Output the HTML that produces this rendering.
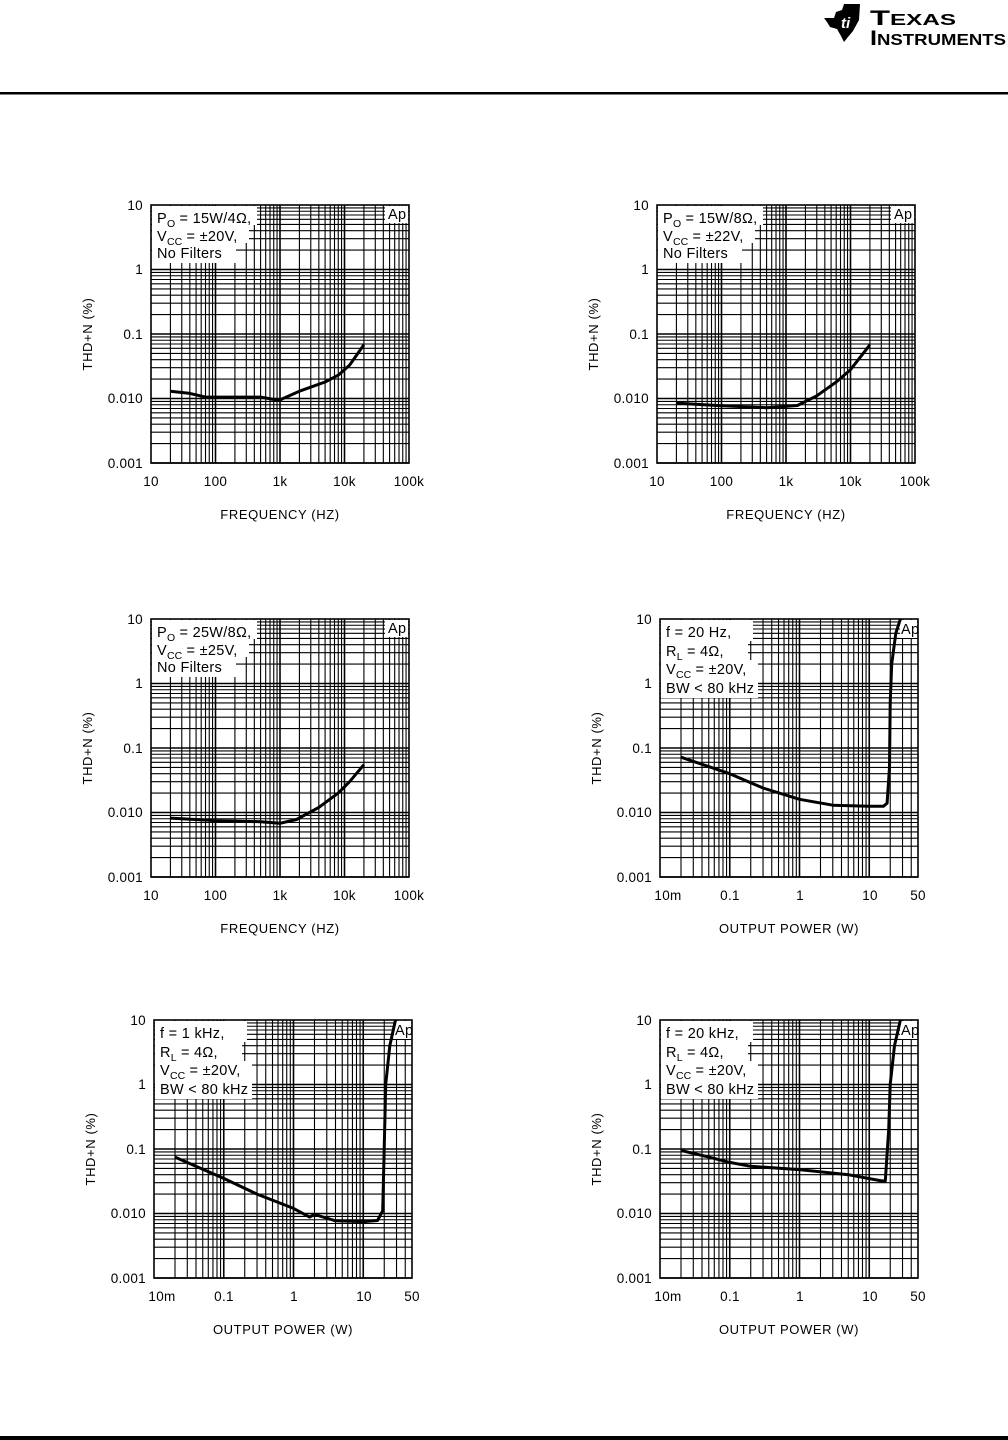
<!DOCTYPE html>
<html><head><meta charset="utf-8"><style>
html,body{margin:0;padding:0;background:#fff}
svg{display:block}
text{font-family:"Liberation Sans",sans-serif;fill:#000}
.t{font-size:13.5px;letter-spacing:0.3px}
.b{font-size:14.5px;letter-spacing:0.3px}
.s{font-size:10.5px;letter-spacing:0}
.ax{font-size:13px;letter-spacing:0.6px}
</style></head><body>
<svg id="s" width="1008" height="1440" viewBox="0 0 1008 1440" xmlns="http://www.w3.org/2000/svg">
<rect x="0" y="92" width="1008" height="2.5" fill="#000"/>
<rect x="0" y="1436" width="1008" height="4" fill="#000"/>
<g transform="translate(824,4)">
<path d="M0,14 L10,14 L12,8 L18,6 L20,0 L36,0 L35,16 L29,27 L24,33 L20,38 L17,32 L13,25 L6,23 L3,18 Z" fill="#000"/>
<text x="17" y="24" font-size="15" font-style="italic" font-weight="bold" style="fill:#fff" font-family="Liberation Serif,serif">ti</text>
</g>
<text x="870" y="25" font-family="Liberation Serif,serif" font-weight="bold" font-size="21" textLength="86" lengthAdjust="spacingAndGlyphs">T<tspan font-size="15.5">EXAS</tspan></text>
<text x="870" y="45" font-family="Liberation Serif,serif" font-weight="bold" font-size="21" textLength="136" lengthAdjust="spacingAndGlyphs">I<tspan font-size="15.5">NSTRUMENTS</tspan></text>

<g transform="translate(151,205)">
<g id="c1"></g>
<text class="b" x="6" y="18">P<tspan class="s" dy="4">O</tspan><tspan dy="-4"> = 15W/4Ω,</tspan></text>
<text class="b" x="6" y="36">V<tspan class="s" dy="4">CC</tspan><tspan dy="-4"> = ±20V,</tspan></text>
<text class="b" x="6" y="53">No Filters</text>
<text class="b" x="237" y="14">Ap</text>
<text class="t" x="-8" y="5" text-anchor="end">10</text><text class="t" x="-8" y="69" text-anchor="end">1</text><text class="t" x="-8" y="134" text-anchor="end">0.1</text><text class="t" x="-8" y="198" text-anchor="end">0.010</text><text class="t" x="-8" y="263" text-anchor="end">0.001</text>
<text class="t" x="0" y="281" text-anchor="middle">10</text><text class="t" x="64.5" y="281" text-anchor="middle">100</text><text class="t" x="129" y="281" text-anchor="middle">1k</text><text class="t" x="193.5" y="281" text-anchor="middle">10k</text><text class="t" x="258" y="281" text-anchor="middle">100k</text>
<text class="ax" x="129" y="314" text-anchor="middle">FREQUENCY (HZ)</text>
<text class="ax" transform="translate(-59,129) rotate(-90)" text-anchor="middle">THD+N (%)</text>
</g>

<g transform="translate(657,205)">
<g id="c2"></g>
<text class="b" x="6" y="18">P<tspan class="s" dy="4">O</tspan><tspan dy="-4"> = 15W/8Ω,</tspan></text>
<text class="b" x="6" y="36">V<tspan class="s" dy="4">CC</tspan><tspan dy="-4"> = ±22V,</tspan></text>
<text class="b" x="6" y="53">No Filters</text>
<text class="b" x="237" y="14">Ap</text>
<text class="t" x="-8" y="5" text-anchor="end">10</text><text class="t" x="-8" y="69" text-anchor="end">1</text><text class="t" x="-8" y="134" text-anchor="end">0.1</text><text class="t" x="-8" y="198" text-anchor="end">0.010</text><text class="t" x="-8" y="263" text-anchor="end">0.001</text>
<text class="t" x="0" y="281" text-anchor="middle">10</text><text class="t" x="64.5" y="281" text-anchor="middle">100</text><text class="t" x="129" y="281" text-anchor="middle">1k</text><text class="t" x="193.5" y="281" text-anchor="middle">10k</text><text class="t" x="258" y="281" text-anchor="middle">100k</text>
<text class="ax" x="129" y="314" text-anchor="middle">FREQUENCY (HZ)</text>
<text class="ax" transform="translate(-59,129) rotate(-90)" text-anchor="middle">THD+N (%)</text>
</g>

<g transform="translate(151,619)">
<g id="c3"></g>
<text class="b" x="6" y="18">P<tspan class="s" dy="4">O</tspan><tspan dy="-4"> = 25W/8Ω,</tspan></text>
<text class="b" x="6" y="36">V<tspan class="s" dy="4">CC</tspan><tspan dy="-4"> = ±25V,</tspan></text>
<text class="b" x="6" y="53">No Filters</text>
<text class="b" x="237" y="14">Ap</text>
<text class="t" x="-8" y="5" text-anchor="end">10</text><text class="t" x="-8" y="69" text-anchor="end">1</text><text class="t" x="-8" y="134" text-anchor="end">0.1</text><text class="t" x="-8" y="198" text-anchor="end">0.010</text><text class="t" x="-8" y="263" text-anchor="end">0.001</text>
<text class="t" x="0" y="281" text-anchor="middle">10</text><text class="t" x="64.5" y="281" text-anchor="middle">100</text><text class="t" x="129" y="281" text-anchor="middle">1k</text><text class="t" x="193.5" y="281" text-anchor="middle">10k</text><text class="t" x="258" y="281" text-anchor="middle">100k</text>
<text class="ax" x="129" y="314" text-anchor="middle">FREQUENCY (HZ)</text>
<text class="ax" transform="translate(-59,129) rotate(-90)" text-anchor="middle">THD+N (%)</text>
</g>

<g transform="translate(660,619)">
<g id="c4"></g>
<text class="b" x="6" y="18">f = 20 Hz,</text>
<text class="b" x="6" y="37">R<tspan class="s" dy="4">L</tspan><tspan dy="-4"> = 4Ω,</tspan></text>
<text class="b" x="6" y="55">V<tspan class="s" dy="4">CC</tspan><tspan dy="-4"> = ±20V,</tspan></text>
<text class="b" x="6" y="74">BW &lt; 80 kHz</text>
<text class="b" x="241" y="15">Ap</text>
<text class="t" x="-8" y="5" text-anchor="end">10</text><text class="t" x="-8" y="69" text-anchor="end">1</text><text class="t" x="-8" y="134" text-anchor="end">0.1</text><text class="t" x="-8" y="198" text-anchor="end">0.010</text><text class="t" x="-8" y="263" text-anchor="end">0.001</text>
<text class="t" x="8" y="281" text-anchor="middle">10m</text><text class="t" x="70" y="281" text-anchor="middle">0.1</text><text class="t" x="140" y="281" text-anchor="middle">1</text><text class="t" x="210" y="281" text-anchor="middle">10</text><text class="t" x="258" y="281" text-anchor="middle">50</text>
<text class="ax" x="129" y="314" text-anchor="middle">OUTPUT POWER (W)</text>
<text class="ax" transform="translate(-59,129) rotate(-90)" text-anchor="middle">THD+N (%)</text>
</g>

<g transform="translate(154,1020)">
<g id="c5"></g>
<text class="b" x="6" y="18">f = 1 kHz,</text>
<text class="b" x="6" y="37">R<tspan class="s" dy="4">L</tspan><tspan dy="-4"> = 4Ω,</tspan></text>
<text class="b" x="6" y="55">V<tspan class="s" dy="4">CC</tspan><tspan dy="-4"> = ±20V,</tspan></text>
<text class="b" x="6" y="74">BW &lt; 80 kHz</text>
<text class="b" x="241" y="15">Ap</text>
<text class="t" x="-8" y="5" text-anchor="end">10</text><text class="t" x="-8" y="69" text-anchor="end">1</text><text class="t" x="-8" y="134" text-anchor="end">0.1</text><text class="t" x="-8" y="198" text-anchor="end">0.010</text><text class="t" x="-8" y="263" text-anchor="end">0.001</text>
<text class="t" x="8" y="281" text-anchor="middle">10m</text><text class="t" x="70" y="281" text-anchor="middle">0.1</text><text class="t" x="140" y="281" text-anchor="middle">1</text><text class="t" x="210" y="281" text-anchor="middle">10</text><text class="t" x="258" y="281" text-anchor="middle">50</text>
<text class="ax" x="129" y="314" text-anchor="middle">OUTPUT POWER (W)</text>
<text class="ax" transform="translate(-59,129) rotate(-90)" text-anchor="middle">THD+N (%)</text>
</g>

<g transform="translate(660,1020)">
<g id="c6"></g>
<text class="b" x="6" y="18">f = 20 kHz,</text>
<text class="b" x="6" y="37">R<tspan class="s" dy="4">L</tspan><tspan dy="-4"> = 4Ω,</tspan></text>
<text class="b" x="6" y="55">V<tspan class="s" dy="4">CC</tspan><tspan dy="-4"> = ±20V,</tspan></text>
<text class="b" x="6" y="74">BW &lt; 80 kHz</text>
<text class="b" x="241" y="15">Ap</text>
<text class="t" x="-8" y="5" text-anchor="end">10</text><text class="t" x="-8" y="69" text-anchor="end">1</text><text class="t" x="-8" y="134" text-anchor="end">0.1</text><text class="t" x="-8" y="198" text-anchor="end">0.010</text><text class="t" x="-8" y="263" text-anchor="end">0.001</text>
<text class="t" x="8" y="281" text-anchor="middle">10m</text><text class="t" x="70" y="281" text-anchor="middle">0.1</text><text class="t" x="140" y="281" text-anchor="middle">1</text><text class="t" x="210" y="281" text-anchor="middle">10</text><text class="t" x="258" y="281" text-anchor="middle">50</text>
<text class="ax" x="129" y="314" text-anchor="middle">OUTPUT POWER (W)</text>
<text class="ax" transform="translate(-59,129) rotate(-90)" text-anchor="middle">THD+N (%)</text>
</g>
</svg>
<script>
(function(){
var NS="http://www.w3.org/2000/svg",W=258,H=258;
function el(p,t,a){var e=document.createElementNS(NS,t);for(var k in a)e.setAttribute(k,a[k]);p.appendChild(e);return e;}
function yv(v){return H-(Math.log10(v)+3)/4*H;}
function build(id,type,curve){
 var g=document.getElementById(id);
 var xmin,xmax,xv;
 if(type=="f"){xmin=1;xmax=5;}else{xmin=-2;xmax=Math.log10(50);}
 xv=function(v){return (Math.log10(v)-xmin)/(xmax-xmin)*W;};
 for(var e=Math.floor(xmin);e<Math.ceil(xmax);e++){for(var k=1;k<=9;k++){var v=k*Math.pow(10,e);if(v>Math.pow(10,xmax)+1e-9)break;var x=xv(v);if(x<0.5||x>W-0.5)continue;
   el(g,"line",{x1:x,y1:0,x2:x,y2:H,stroke:"#000","stroke-width":k==1?1.6:1.1});}}
 for(var e=-3;e<1;e++){for(var k=1;k<=9;k++){var y=yv(k*Math.pow(10,e));if(y<0.5)continue;
   el(g,"line",{x1:0,y1:y,x2:W,y2:y,stroke:"#000","stroke-width":k==1?1.6:1.1});}}
 if(type=="f"){el(g,"path",{d:"M1,1 H106 V20 H98 V38 H85 V58 H1 Z",fill:"#fff"});el(g,"rect",{x:234,y:1,width:23,height:17,fill:"#fff"});}
 else{el(g,"path",{d:"M1,1 H93 V22 H88 V41 H98 V79 H1 Z",fill:"#fff"});el(g,"rect",{x:240,y:1,width:17,height:18,fill:"#fff"});}
 el(g,"rect",{x:0,y:0,width:W,height:H,fill:"none",stroke:"#000","stroke-width":1.6});
 var p="";for(var i=0;i<curve.length;i++){p+=(i?"L":"M")+xv(curve[i][0]).toFixed(1)+","+yv(curve[i][1]).toFixed(1);}
 el(g,"path",{d:p,fill:"none",stroke:"#000","stroke-width":3,"stroke-linejoin":"round"});
}
build("c1","f",[[20,0.013],[40,0.012],[70,0.0105],[200,0.0105],[500,0.0105],[800,0.0097],[1000,0.0095],[2000,0.013],[5000,0.018],[8000,0.023],[12000,0.033],[20000,0.068]]);
build("c2","f",[[20,0.0085],[100,0.0077],[500,0.0072],[1500,0.0078],[3000,0.011],[6000,0.018],[10000,0.028],[20000,0.068]]);
build("c3","f",[[20,0.0082],[100,0.0075],[500,0.0072],[1000,0.0068],[1800,0.0078],[4000,0.012],[8000,0.02],[12000,0.03],[20000,0.055]]);
build("c4","p",[[0.02,0.072],[0.1,0.04],[0.3,0.024],[1,0.016],[3,0.013],[10,0.0125],[16,0.0125],[18,0.014],[19.5,0.05],[20,0.5],[21,2],[24,6],[28,10]]);
build("c5","p",[[0.02,0.075],[0.1,0.035],[0.3,0.02],[1,0.012],[1.7,0.0088],[2,0.0097],[2.5,0.009],[4,0.0077],[10,0.0075],[16,0.0078],[19,0.011],[20,0.1],[21,1],[24,4],[29,10]]);
build("c6","p",[[0.02,0.095],[0.05,0.075],[0.1,0.062],[0.2,0.054],[1,0.048],[5,0.04],[15,0.032],[17,0.032],[19,0.2],[20,1],[23,4],[28,10]]);
})();
</script>
</body></html>
